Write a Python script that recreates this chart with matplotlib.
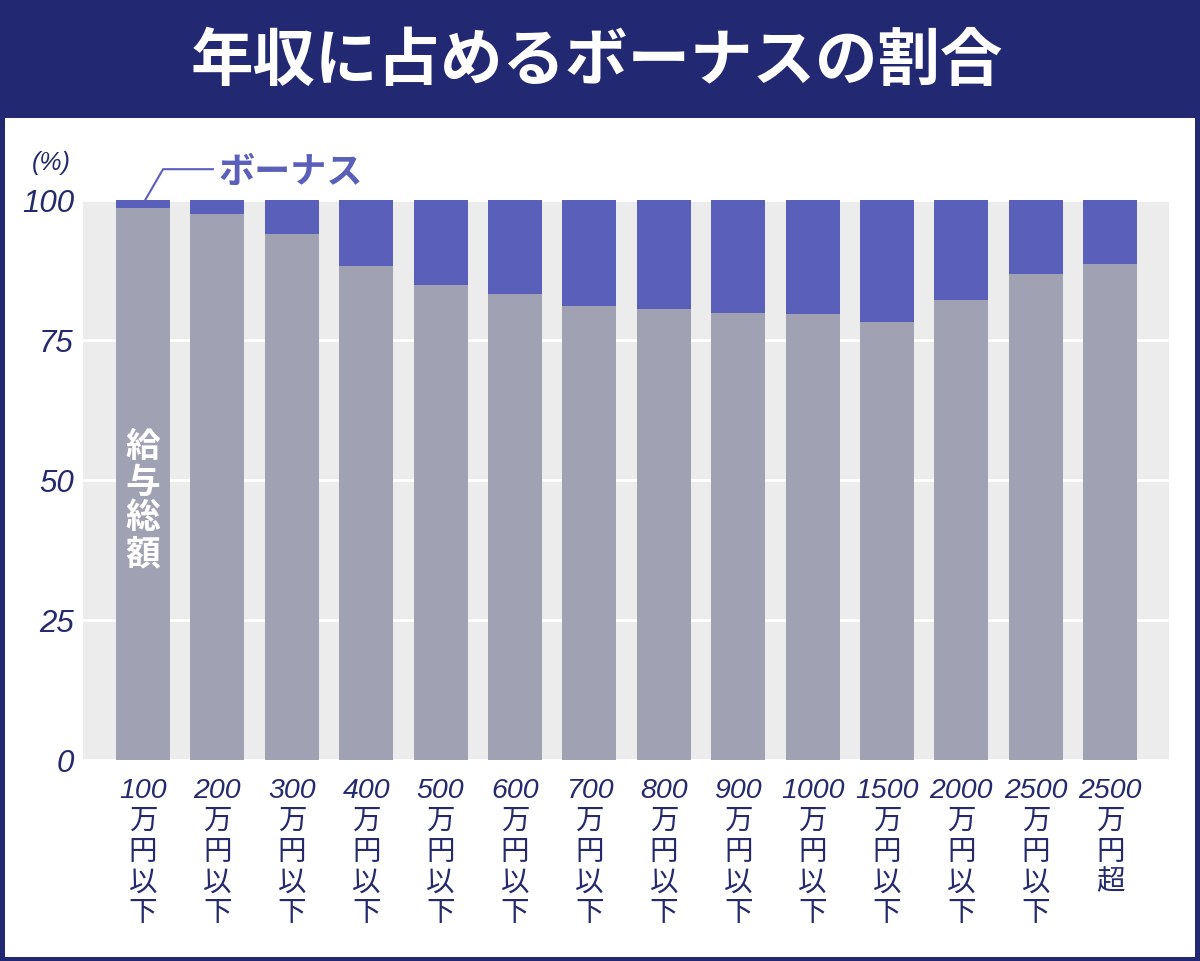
import matplotlib
matplotlib.use("Agg")
import matplotlib.pyplot as plt
from matplotlib.patches import Rectangle
from matplotlib.lines import Line2D

# ---- data ----
income_levels = ['100', '200', '300', '400', '500', '600', '700', '800', '900',
                 '1000', '1500', '2000', '2500', '2500']
level_suffix = ['万円以下'] * 13 + ['万円超']
salary_share = [98.6, 97.5, 93.9, 88.2, 84.8, 83.2, 81.1, 80.5, 79.8, 79.6, 78.2, 82.1, 86.8, 88.6]
bonus_share = [1.4, 2.5, 6.1, 11.8, 15.2, 16.8, 18.9, 19.5, 20.2, 20.4, 21.8, 17.9, 13.2, 11.4]
y_ticks = [0, 25, 50, 75, 100]

title_text = '年収に占めるボーナスの割合'
bonus_label = 'ボーナス'
salary_label = '給与総額'

NAVY = '#222872'
TEXT_NAVY = '#242a6c'
BLUE = '#5a5fb9'
GREY = '#a0a1b3'
BG = '#ececec'

FAM = ['Liberation Sans', 'Noto Sans CJK JP']
plt.rcParams['font.family'] = FAM

W, H = 1200, 961
fig = plt.figure(figsize=(W / 100, H / 100), dpi=100)
fig.patch.set_facecolor('white')

# frame and title bar
fig.add_artist(Rectangle((0, 1 - 118 / H), 1, 118 / H, transform=fig.transFigure,
                         facecolor=NAVY, edgecolor='none', zorder=0))
fig.add_artist(Rectangle((0, 0), 5 / W, 1, transform=fig.transFigure,
                         facecolor=NAVY, edgecolor='none', zorder=0))
fig.add_artist(Rectangle((1 - 5 / W, 0), 5 / W, 1, transform=fig.transFigure,
                         facecolor=NAVY, edgecolor='none', zorder=0))
fig.add_artist(Rectangle((0, 0), 1, 4 / H, transform=fig.transFigure,
                         facecolor=NAVY, edgecolor='none', zorder=0))
fig.text(597 / W, 1 - 62 / H, title_text, color='white', fontsize=45,
         fontweight='bold', family='Noto Sans CJK JP', ha='center', va='center')

# axes
left, right, top, bottom = 83, 1169, 200, 760
ax = fig.add_axes([left / W, 1 - bottom / H, (right - left) / W, (bottom - top) / H])
ax.set_facecolor(BG)
for s in ax.spines.values():
    s.set_visible(False)

x = list(range(len(income_levels)))
bw = 0.725
ax.bar(x, salary_share, width=bw, color=GREY, zorder=2)
ax.bar(x, bonus_share, width=bw, bottom=salary_share, color=BLUE, zorder=2)

ax.set_xlim(-0.806, 13.79)
ax.set_ylim(0, 100)
ax.set_yticks(y_ticks)
ax.set_yticklabels([str(t) for t in y_ticks], fontsize=22.5, style='italic', color=TEXT_NAVY)
ax.tick_params(axis='y', length=0, pad=6.5)
ax.grid(axis='y', color='white', linewidth=2)
ax.set_axisbelow(True)

labels = [lv + '\n' + '\n'.join(list(sf)) for lv, sf in zip(income_levels, level_suffix)]
ax.set_xticks(x)
ax.set_xticklabels(labels, fontsize=20.5, style='italic', color=TEXT_NAVY,
                   linespacing=1.24, va='top')
ax.tick_params(axis='x', length=0, pad=13)

# bonus annotation
ax.add_line(Line2D([0.03, 0.27, 0.94], [100, 105.5, 105.5], color=BLUE,
                   linewidth=1.5, clip_on=False))
ax.text(1.02, 104.9, bonus_label, color=BLUE, fontsize=26, fontweight='bold',
        style='italic', family='Noto Sans CJK JP', ha='left', va='center', clip_on=False)

# salary label (vertical)
ax.text(0, 46.4, '\n'.join(list(salary_label)), color='white', fontsize=25,
        fontweight='bold', style='italic', family='Noto Sans CJK JP',
        ha='center', va='center', linespacing=1.02, zorder=3)

fig.text(51 / W, 1 - 163 / H, '(%)', color=TEXT_NAVY, fontsize=18, style='italic',
         ha='center', va='center')

fig.savefig('out.png', dpi=100)
